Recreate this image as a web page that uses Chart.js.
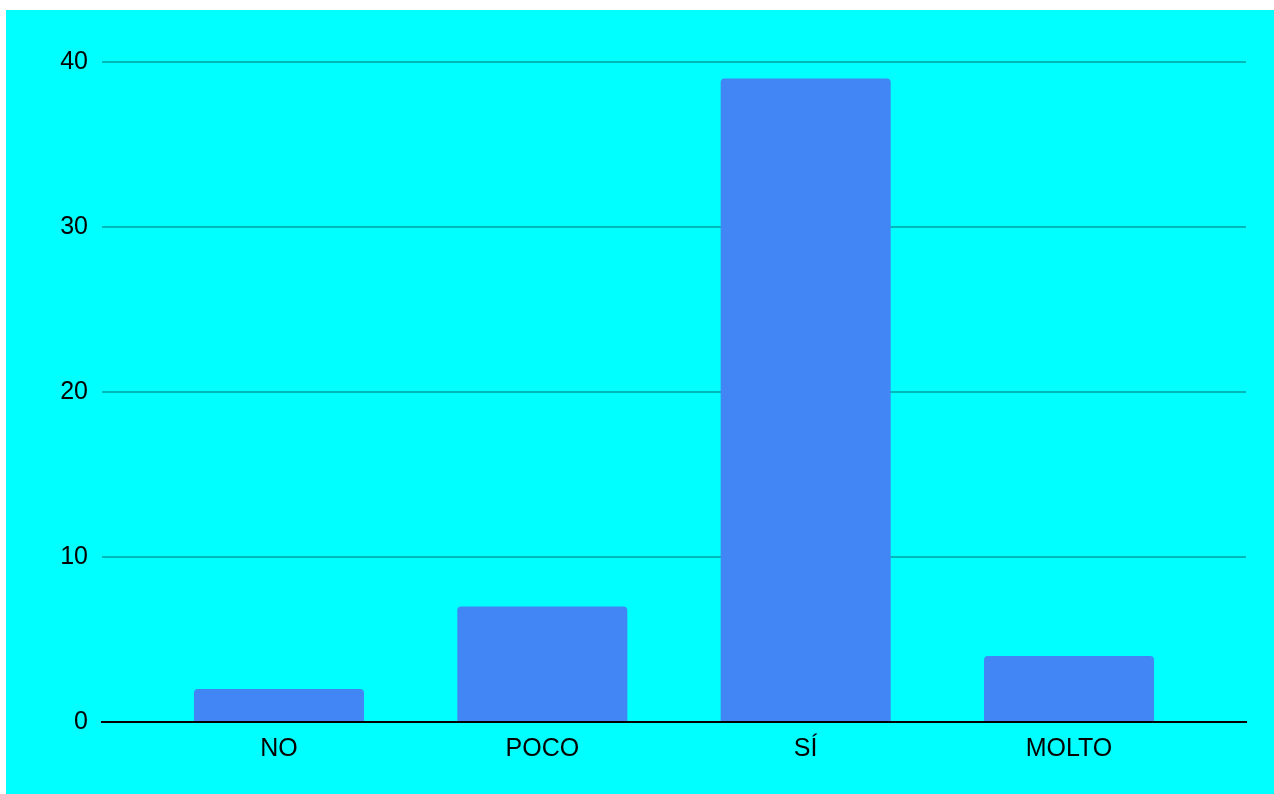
<!DOCTYPE html>
<html>
<head>
<meta charset="utf-8">
<script src="https://cdn.jsdelivr.net/npm/chart.js@4"></script>
<style>
    html, body { margin: 0; padding: 0; background: #ffffff; }
    #wrap { position: absolute; left: 6px; top: 10px; width: 1268px; height: 784px; background: #00ffff; }
</style>
</head>
<body>
<div id="wrap"><canvas id="barChart" width="1268" height="784"></canvas></div>
<script>
const categories = ["NO", "POCO", "SÍ", "MOLTO"];
const counts = [2, 7, 39, 4];
const yTicks = [0, 10, 20, 30, 40];

const fontFamily = "'Liberation Sans', Arial, sans-serif";
const gridColor = "rgba(0, 0, 0, 0.28)";

const ctx = document.getElementById("barChart").getContext("2d");
const barChart = new Chart(ctx, {
    type: "bar",
    data: {
        datasets: [
            {
                data: counts.map((v, i) => ({ x: i, y: v })),
                backgroundColor: "#4285f4",
                borderRadius: { topLeft: 4, topRight: 4, bottomLeft: 0, bottomRight: 0 },
                borderSkipped: false,
                categoryPercentage: 1,
                barPercentage: 0.6456,
            },
        ],
    },
    options: {
        responsive: false,
        animation: false,
        layout: { padding: { top: 52, right: 28, bottom: 0, left: 0 } },
        plugins: {
            legend: { display: false },
            tooltip: { enabled: false },
        },
        scales: {
            x: {
                type: "linear",
                offset: false,
                min: -0.672,
                max: 3.672,
                grid: { display: false, drawTicks: false },
                border: { display: true, color: "#000000", width: 2 },
                afterBuildTicks: (scale) => {
                    scale.ticks = categories.map((c, i) => ({ value: i }));
                },
                afterFit: (scale) => {
                    scale.height = 72;
                },
                ticks: {
                    padding: 12,
                    color: "#000000",
                    font: { family: fontFamily, size: 25 },
                    callback: (v) => categories[v] ?? "",
                    maxRotation: 0,
                    autoSkip: false,
                },
            },
            y: {
                min: 0,
                max: 40,
                afterBuildTicks: (scale) => {
                    scale.ticks = yTicks.map((v) => ({ value: v }));
                },
                afterFit: (scale) => {
                    scale.width = 96;
                },
                grid: {
                    drawTicks: false,
                    lineWidth: 2,
                    color: (c) => (c.tick && c.tick.value === 0 ? "#000000" : gridColor),
                },
                border: { display: false },
                ticks: {
                    padding: 14,
                    color: "#000000",
                    font: { family: fontFamily, size: 25 },
                },
            },
        },
    },
});
</script>
</body>
</html>
